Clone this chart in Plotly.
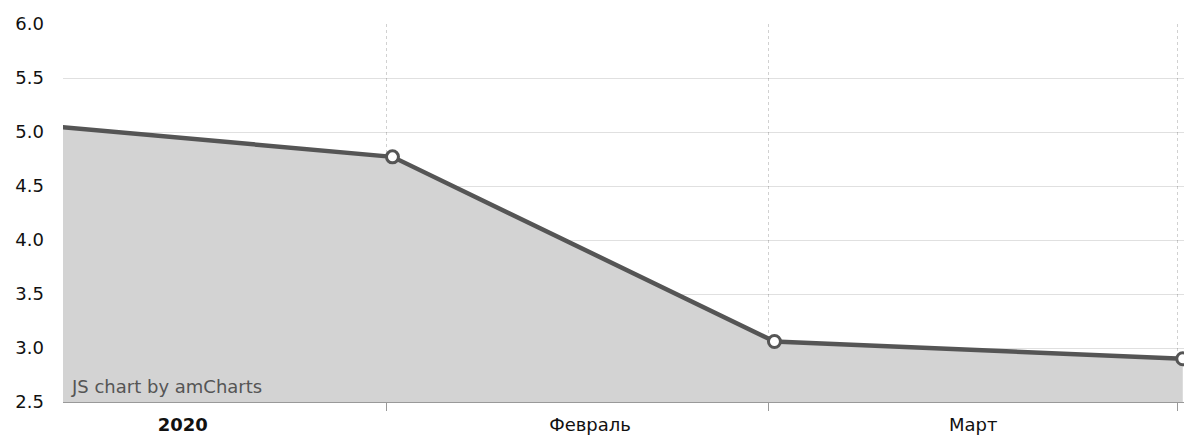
import plotly.graph_objects as go

# Data
dates = ["2020-01-01 10:00", "2020-02-01 10:00", "2020-03-01 10:00", "2020-04-01 10:00"]
values = [5.11, 4.77, 3.06, 2.90]

# Axis ticks
label_dates = ["2020-01-16 12:00", "2020-02-16 10:00", "2020-03-16 12:00"]
label_texts = ["<b>2020</b>", "Февраль", "Март"]
month_starts = ["2020-02-01", "2020-03-01", "2020-04-01"]
x_range = ["2020-01-07 09:40", "2020-04-01 12:14"]
y_ticks = [2.5, 3.0, 3.5, 4.0, 4.5, 5.0, 5.5, 6.0]

fig = go.Figure()
fig.add_trace(go.Scatter(
    x=dates, y=values, mode="lines+markers",
    fill="tozeroy", fillcolor="#d3d3d3",
    line=dict(color="#555555", width=4.5),
    marker=dict(size=12, color="white", line=dict(color="#555555", width=3)),
    showlegend=False, hoverinfo="x+y",
))

fig.update_layout(
    width=1184, height=435,
    margin=dict(l=63, r=0, t=24, b=28),
    paper_bgcolor="white", plot_bgcolor="white",
    font=dict(family="DejaVu Sans", size=18, color="#111111"),
    annotations=[dict(
        text="JS chart by amCharts", xref="paper", yref="paper",
        x=0, y=0, xanchor="left", yanchor="bottom", xshift=6, yshift=3,
        showarrow=False, font=dict(family="DejaVu Sans", size=18, color="#555555"),
    )],
)

fig.update_xaxes(
    type="date", range=x_range,
    tickmode="array", tickvals=label_dates, ticktext=label_texts,
    ticks="", showgrid=False, ticklabelstandoff=6,
    tickfont=dict(size=18, color="#111111"),
    showline=True, linecolor="#999999", linewidth=1,
    layer="above traces", zeroline=False,
    minor=dict(tickmode="array", tickvals=month_starts, ticks="outside",
               ticklen=8, tickcolor="#999999", tickwidth=1,
               showgrid=True, gridcolor="rgba(0,0,0,0.18)", griddash="dot", gridwidth=1),
)

fig.update_yaxes(
    range=[2.5, 6.0], tickmode="array", tickvals=y_ticks,
    ticktext=[f"{v:.1f}" for v in y_ticks],
    showgrid=True, gridcolor="rgba(0,0,0,0.12)", gridwidth=1,
    zeroline=False, ticks="", ticklabelstandoff=18,
    tickfont=dict(size=18, color="#111111"),
    layer="above traces",
)

fig.write_html("out.html", config={"displayModeBar": False},
               post_script="document.body.style.margin='0';document.body.style.overflow='hidden';")
